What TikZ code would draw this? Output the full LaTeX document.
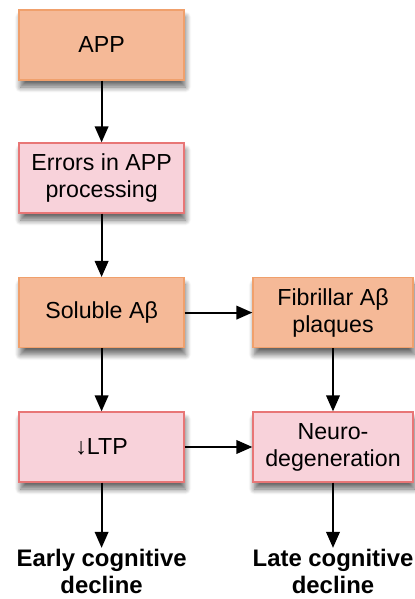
\documentclass[tikz,border=0pt]{standalone}
\usepackage{fontspec}
\setmainfont{Liberation Sans}
\usetikzlibrary{arrows.meta,shadows.blur}

\definecolor{appfill}{RGB}{245,185,151}
\definecolor{appline}{RGB}{240,160,108}
\definecolor{errfill}{RGB}{248,210,218}
\definecolor{errline}{RGB}{232,118,118}

\tikzset{
	stepshadow/.style={blur shadow={shadow xshift=1pt, shadow yshift=-5pt, shadow blur radius=4pt, shadow blur steps=10, shadow opacity=60}},
	orangebox/.style={draw=appline, fill=appfill, line width=0.9pt, align=center, minimum height=1.75cm, stepshadow},
	pinkbox/.style={draw=errline, fill=errfill, line width=0.9pt, align=center, minimum height=1.75cm, stepshadow},
	outcome/.style={align=center, inner sep=1pt, font=\fontsize{17}{19.2}\selectfont\bfseries},
	flow/.style={line width=1.3pt, -{Triangle[length=0.4cm, width=0.34cm]}}
}

\begin{document}
\begin{tikzpicture}[font=\fontsize{16.5}{19.2}\selectfont]
		\useasboundingbox (0, 0) rectangle (10.375, 14.975);
		% left column
		\node[orangebox, minimum width=4.125cm] (app) at (2.54, 13.85) {APP};
		\node[pinkbox, minimum width=4.125cm] (errors) at (2.54, 10.525) {Errors in APP\\processing};
		\node[orangebox, minimum width=4.125cm] (soluble) at (2.54, 7.16) {Soluble Aβ};
		\node[pinkbox, minimum width=4.125cm] (ltp) at (2.54, 3.8) {↓LTP};
		\node[outcome] (early) at (2.54, 0.68) {Early cognitive\\decline};
		% right column
		\node[orangebox, minimum width=4cm] (fibrillar) at (8.325, 7.16) {Fibrillar Aβ\\plaques};
		\node[pinkbox, minimum width=4cm] (neuro) at (8.325, 3.8) {Neuro-\\degeneration};
		\node[outcome] (late) at (8.325, 0.68) {Late cognitive\\decline};
		% arrows
		\draw[flow] (app) -- (errors);
		\draw[flow] (errors) -- (soluble);
		\draw[flow] (soluble) -- (ltp);
		\draw[flow] (ltp) -- (early);
		\draw[flow] (soluble) -- (fibrillar);
		\draw[flow] (fibrillar) -- (neuro);
		\draw[flow] (ltp) -- (neuro);
		\draw[flow] (neuro) -- (late);
		\end{tikzpicture}
\end{document}
